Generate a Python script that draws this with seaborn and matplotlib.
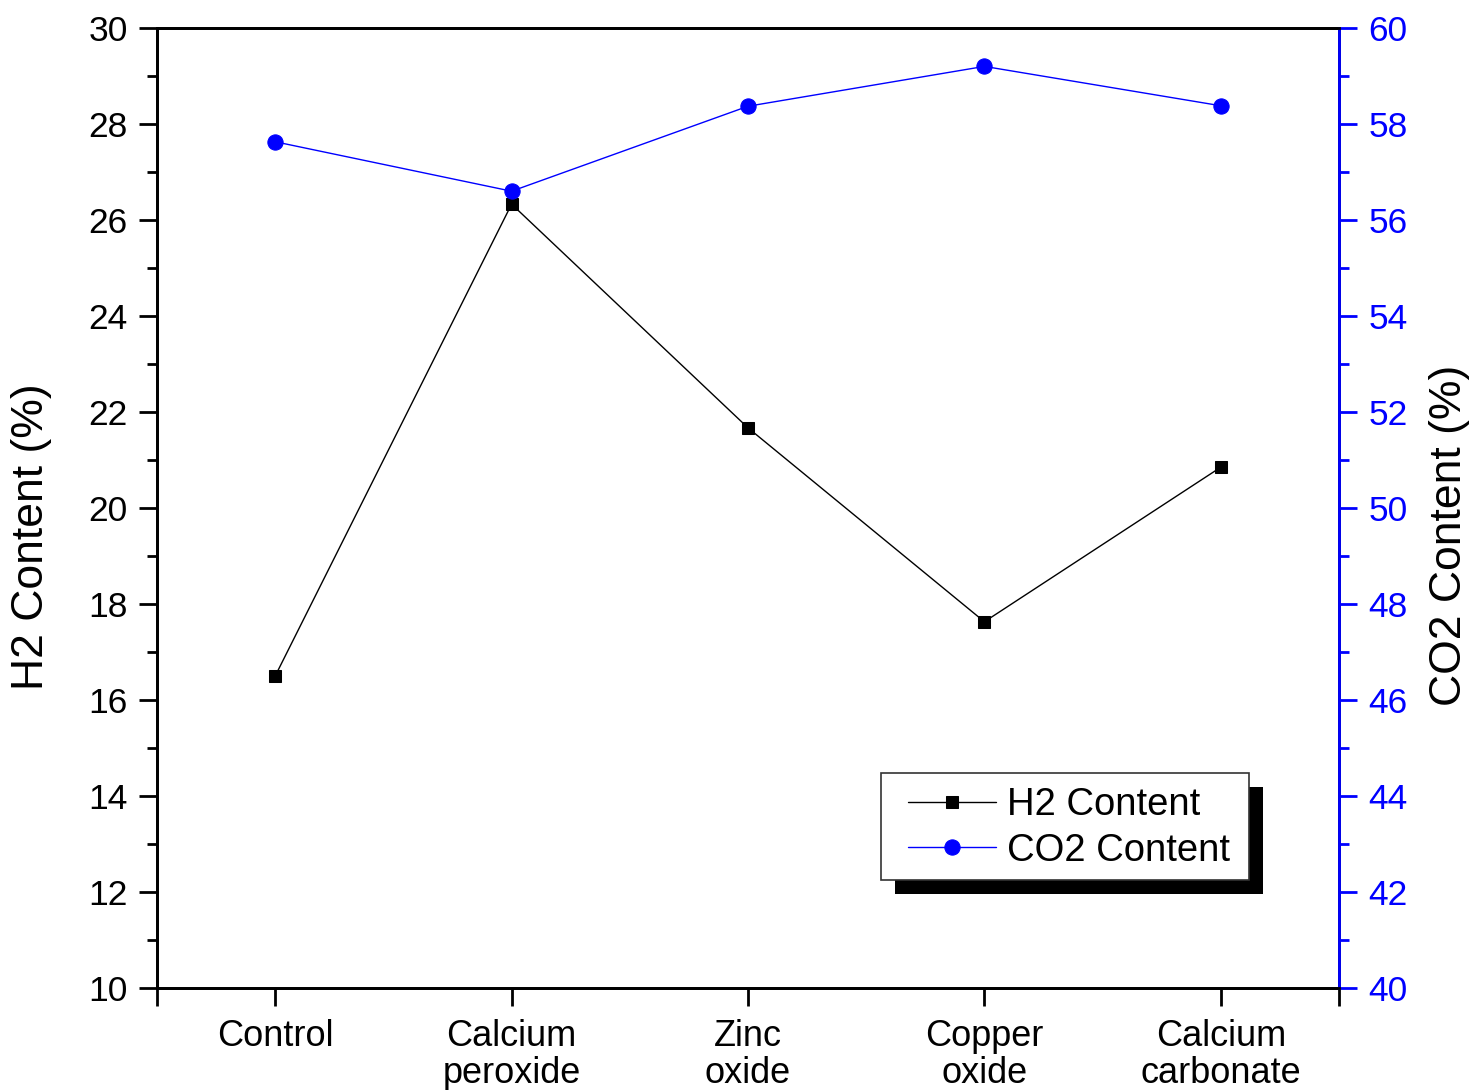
import matplotlib
matplotlib.use("Agg")
import matplotlib.pyplot as plt
import seaborn as sns
import pandas as pd
import numpy as np
from matplotlib.patches import Rectangle
from matplotlib.ticker import MultipleLocator

categories = ["Control", "Calcium\nperoxide", "Zinc\noxide", "Copper\noxide", "Calcium\ncarbonate"]
h2_content = [16.5, 26.33, 21.67, 17.63, 20.85]
co2_content = [57.63, 56.6, 58.37, 59.2, 58.38]

sns.set_style("white")
plt.rcParams['font.family'] = ['Liberation Sans', 'DejaVu Sans']
plt.rcParams['text.color'] = 'black'
plt.rcParams['axes.labelcolor'] = 'black'

df = pd.DataFrame({"pos": np.arange(len(categories)), "H2": h2_content, "CO2": co2_content})

fig = plt.figure(figsize=(14.79, 10.90), dpi=100)
ax = fig.add_axes([157/1479, 1 - 988/1090, (1339-157)/1479, (988-28)/1090])
ax2 = ax.twinx()

sns.lineplot(data=df, x="pos", y="H2", ax=ax, color="black", marker="s", markersize=9,
             markeredgecolor="black", linewidth=1.0, label="H2 Content", legend=False)
sns.lineplot(data=df, x="pos", y="CO2", ax=ax2, color="blue", marker="o", markersize=11,
             markeredgecolor="blue", linewidth=1.0, label="CO2 Content", legend=False)

n = len(categories)
ax.set_xlim(-0.5, n - 0.5)
ax.set_ylim(10, 30)
ax2.set_ylim(40, 60)

ax.yaxis.set_major_locator(MultipleLocator(2))
ax.yaxis.set_minor_locator(MultipleLocator(1))
ax2.yaxis.set_major_locator(MultipleLocator(2))
ax2.yaxis.set_minor_locator(MultipleLocator(1))

ax.set_xticks([-0.5] + list(range(n)) + [n - 0.5])
ax.set_xticklabels([""] + categories + [""])

for a in (ax, ax2):
    for s in a.spines.values():
        s.set_linewidth(2)
        s.set_color("black")
ax2.spines["right"].set_color("blue")

ax.tick_params(axis="x", which="major", direction="out", length=13, width=2,
               labelsize=26, colors="black", bottom=True, top=False, pad=9)
ax.tick_params(axis="y", which="major", direction="out", length=13, width=2,
               labelsize=25.5, colors="black", left=True, right=False, pad=8)
ax.tick_params(axis="y", which="minor", direction="out", length=7, width=2,
               color="black", left=True, right=False)
ax2.tick_params(axis="y", which="major", direction="out", length=13, width=2,
                labelsize=25.5, colors="blue", right=True, left=False, pad=8)
ax2.tick_params(axis="y", which="minor", direction="out", length=7, width=2,
                color="blue", right=True, left=False)
for lbl in ax.get_xticklabels():
    lbl.set_linespacing(1.08)

ax.set_xlabel("")
ax.set_ylabel("H2 Content (%)", fontsize=32)
ax.yaxis.set_label_coords(-0.089, 0.47)
ax2.set_ylabel("CO2 Content (%)", fontsize=32, color="black")
ax2.yaxis.set_label_coords(1.076, 0.472)

# legend frame and shadow
fx0, fy0 = (881-157)/1182, (988-880)/960
fw, fh = (1249-881)/1182, (880-773)/960
ax2.add_patch(Rectangle((fx0 + 14/1182, fy0 - 14/960), fw, fh, transform=ax2.transAxes,
                        facecolor="black", edgecolor="none", zorder=8, clip_on=False))
ax2.add_patch(Rectangle((fx0, fy0), fw, fh, transform=ax2.transAxes,
                        facecolor="white", edgecolor="#333333", linewidth=1.2, zorder=9, clip_on=False))

h1, l1 = ax.get_legend_handles_labels()
h2, l2 = ax2.get_legend_handles_labels()
leg = ax2.legend(h1 + h2, l1 + l2, loc="center left",
                 bbox_to_anchor=((908-157)/1182, (988-828)/960),
                 fontsize=27.5, frameon=False, handlelength=2.3, handletextpad=0.3,
                 borderpad=0, labelspacing=0.25, borderaxespad=0)
leg.set_zorder(10)
for t in leg.get_texts():
    t.set_color("black")

fig.savefig("out.png", dpi=100, facecolor="white")
